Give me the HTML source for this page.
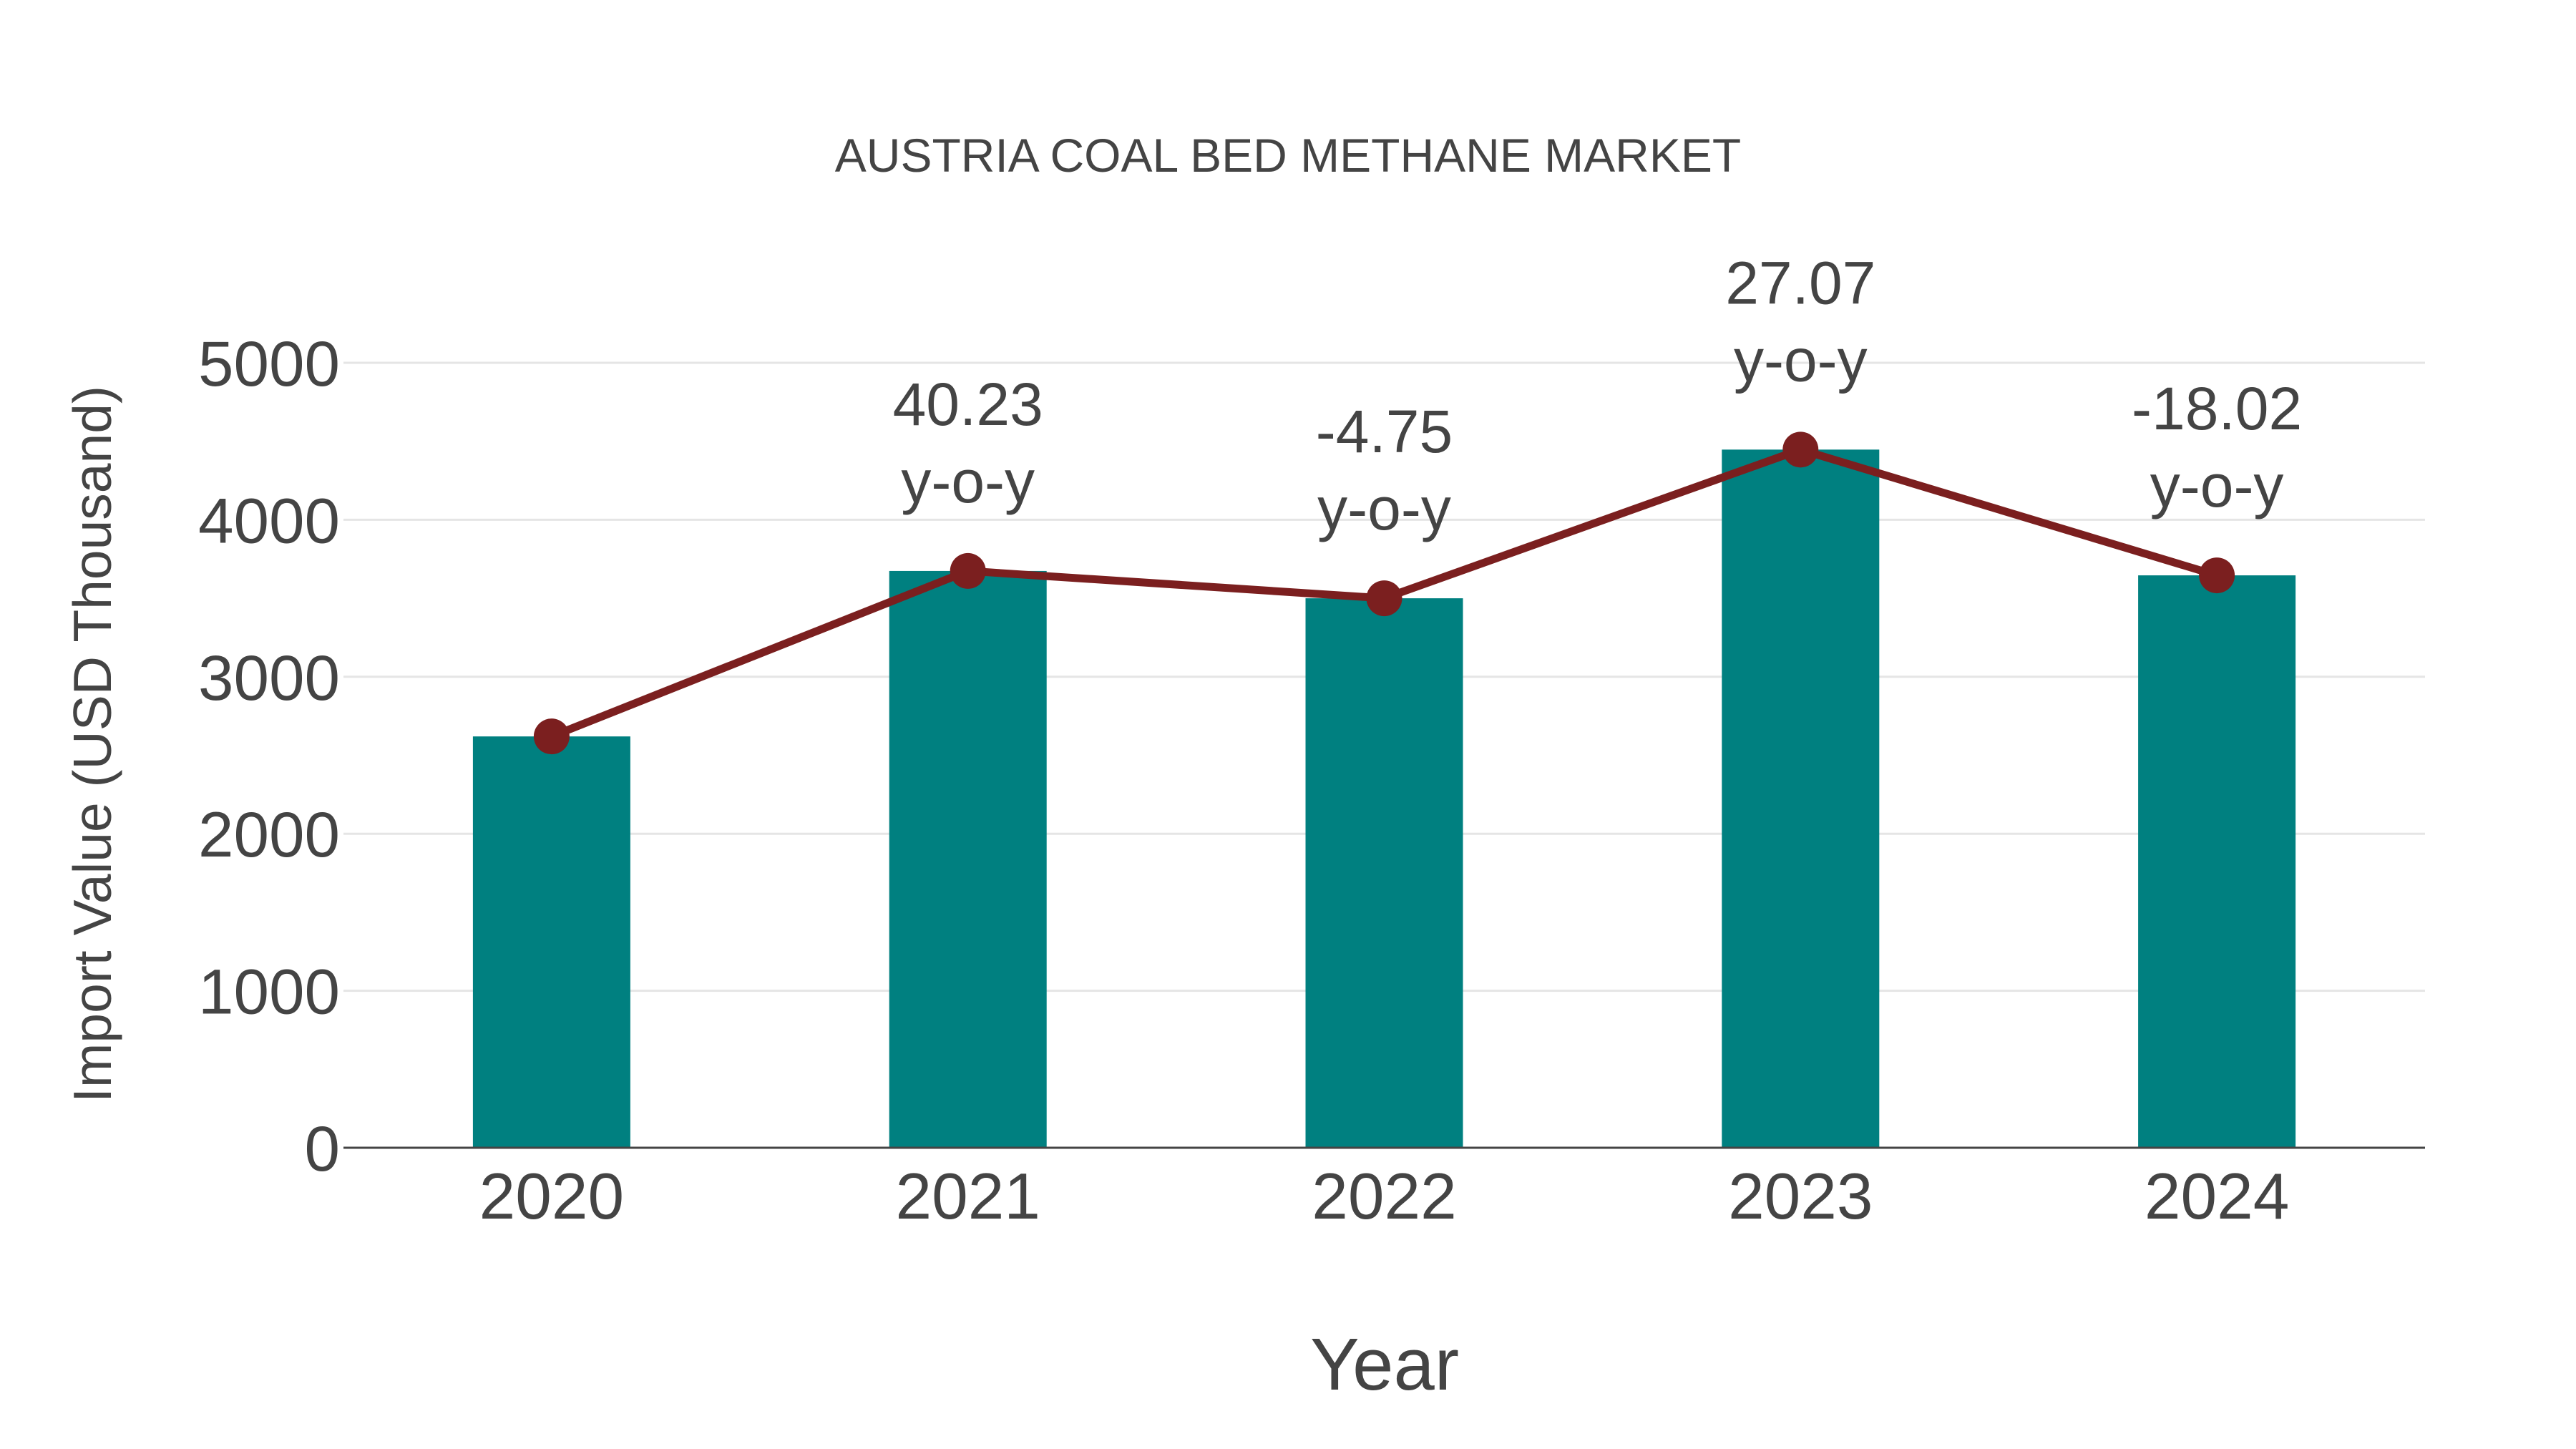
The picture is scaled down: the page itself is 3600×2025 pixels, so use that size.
<!DOCTYPE html>
<html><head><meta charset="utf-8"><style>
html,body{margin:0;padding:0;background:#fff;}
svg{display:block;font-family:"Liberation Sans",sans-serif;}
</style></head><body>
<svg id="chart" width="3600" height="2025" viewBox="0 0 3600 2025" xmlns="http://www.w3.org/2000/svg">
<text x="1800" y="240" text-anchor="middle" font-size="66" fill="#444">AUSTRIA COAL BED METHANE MARKET</text>
<g id="grid"></g>
<g id="bars"></g>
<line x1="480" x2="3389" y1="1604" y2="1604" stroke="#444" stroke-width="3"/>
<g id="line"></g>
<g id="labels"></g>
<g id="xticks"></g>
<g id="yticks"></g>
<text x="1935" y="1942" text-anchor="middle" font-size="103" fill="#444">Year</text>
<text transform="translate(155,1040) rotate(-90)" text-anchor="middle" font-size="75" fill="#444">Import Value (USD Thousand)</text>
</svg>
<script>
const categories = ["2020","2021","2022","2023","2024"];
const values = [2620, 3674, 3500, 4447, 3646];
const yoyLabels = ["", "40.23", "-4.75", "27.07", "-18.02"];
const yTicks = [0, 1000, 2000, 3000, 4000, 5000];

const NS = "http://www.w3.org/2000/svg";
const plotLeft = 480, plotRight = 3389, y0 = 1604, pxPerUnit = 1097 / 5000;
const band = (plotRight - plotLeft) / categories.length;
const barW = 220;
function xScale(i){ return plotLeft + band * (i + 0.5); }
function yScale(v){ return y0 - v * pxPerUnit; }
function mk(tag, attrs, parent){
  const e = document.createElementNS(NS, tag);
  for (const k in attrs) e.setAttribute(k, attrs[k]);
  parent.appendChild(e);
  return e;
}
const grid = document.getElementById('grid');
const yt = document.getElementById('yticks');
yTicks.forEach(t => {
  if (t > 0) {
    const g = mk('line', {x1: plotLeft, x2: plotRight, y1: yScale(t), y2: yScale(t), stroke: '#e5e5e5', 'stroke-width': 3}, grid);
    
    
  }
  const tx = mk('text', {x: 475, y: yScale(t) + 32, 'text-anchor': 'end', 'font-size': 89, fill: '#444'}, yt);
  tx.textContent = t;
  
  
});
const bars = document.getElementById('bars');
const xt = document.getElementById('xticks');
const lab = document.getElementById('labels');
const lineG = document.getElementById('line');
categories.forEach((c, i) => {
  const b = mk('rect', {x: xScale(i) - barW/2, y: yScale(values[i]), width: barW, height: y0 - yScale(values[i]), fill: '#008080'}, bars);
  
  
  const t = mk('text', {x: xScale(i), y: 1703, 'text-anchor': 'middle', 'font-size': 91, fill: '#444'}, xt);
  t.textContent = c;
  
  
});
const pts = values.map((v, i) => xScale(i) + ',' + yScale(v)).join(' ');
const pl = mk('polyline', {points: pts, fill: 'none', stroke: '#7b1f1f', 'stroke-width': 11, 'stroke-linejoin': 'round'}, lineG);


values.forEach((v, i) => {
  const m = mk('circle', {cx: xScale(i), cy: yScale(v), r: 25, fill: '#7b1f1f'}, lineG);
  
  
  if (yoyLabels[i]) {
    const a = mk('text', {x: xScale(i), y: yScale(v) - 204, 'text-anchor': 'middle', 'font-size': 84, fill: '#444'}, lab);
    a.textContent = yoyLabels[i];
    
    
    const b2 = mk('text', {x: xScale(i), y: yScale(v) - 96, 'text-anchor': 'middle', 'font-size': 84, fill: '#444'}, lab);
    b2.textContent = 'y-o-y';
    
    
  }
});
</script>
</body></html>
